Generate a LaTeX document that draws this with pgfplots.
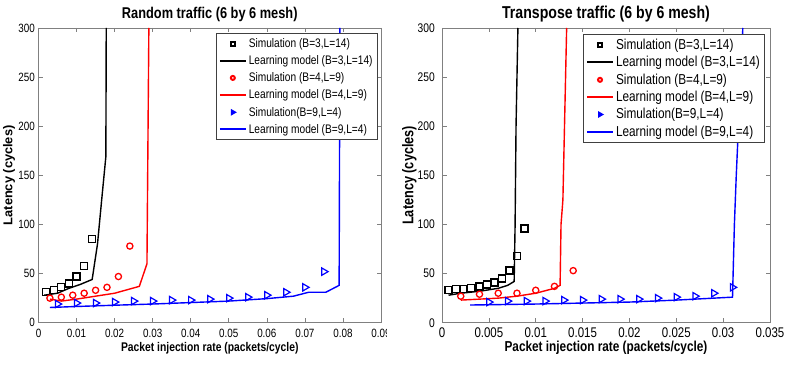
\documentclass[border=0pt]{standalone}
\usepackage{fontspec}
\setmainfont{Liberation Sans}[FakeStretch=0.82]
\newfontfamily\widefont{Liberation Sans}
\usepackage{pgfplots}
\pgfplotsset{compat=1.18}
\newcommand\fs[1]{\fontsize{#1}{#1}\selectfont}

\pgfplotsset{
  matfig/.style={
    scale only axis, height=294.7pt,
    ymin=0, ymax=300, ytick={0,50,...,300},
    scaled x ticks=false, scaled y ticks=false,
    tick align=inside, major tick length=4.5pt,
    axis line style={black!50, line width=0.7pt},
    tick style={black!50, line width=0.6pt},
    /pgf/number format/assume math mode=true,
    title style={at={(0.5,1)}, anchor=base, yshift=3pt},
    xlabel style={at={(0.5,0)}, anchor=base, yshift=-29pt},
    xticklabel style={anchor=base, yshift=-15pt},
    yticklabel style={inner sep=0pt, xshift=-3.5pt},
    legend cell align=left,
    legend image code/.code={\draw[mark repeat=2,mark phase=2,##1] plot coordinates {(0pt,0pt)(13pt,0pt)(26pt,0pt)};},
    legend image post style={mark size=2pt, line width=2pt},
  },
}

\begin{document}
\begin{tikzpicture}
\useasboundingbox (0,0) rectangle (789pt,364pt);

\begin{scope}
\clip (0,0) rectangle (386pt,364pt);
\begin{axis}[matfig,
  at={(38.5pt,41.3pt)}, anchor=south west, width=342.5pt,
  xmin=0, xmax=0.09,
  xtick={0,0.01,0.02,0.03,0.04,0.05,0.06,0.07,0.08,0.09},
  xticklabels={0,0.01,0.02,0.03,0.04,0.05,0.06,0.07,0.08,0.09},
  ticklabel style={font=\fs{12}},
  title={\fs{15.6}\bfseries Random traffic (6 by 6 mesh)},
  xlabel={\fs{12.6}\bfseries Packet injection rate (packets/cycle)},
  ylabel={\widefont\fs{12.8}\bfseries Latency (cycles)},
  ylabel style={at={(axis description cs:-0.076,0.5)}, anchor=base},
  legend style={at={(0.991,0.983)}, anchor=north east, draw=black!75,
    line width=0.6pt, inner sep=3pt, font=\fs{12.4}, row sep=2.7pt,
    nodes={inner sep=2pt}},
]
\addplot[only marks, black, mark=square, mark size=3.5pt, line width=1.3pt]
  coordinates {(0.002,31)(0.004,33)(0.006,36)(0.008,40)(0.010,47)(0.012,58)(0.014,85)};
\addlegendentry{Simulation (B=3,L=14)}
\addplot[black, no marks, line width=1.4pt]
  coordinates {(0.0015,28)(0.005,30)(0.008,35)(0.011,39)(0.0141,44)(0.0155,80)(0.0166,125)(0.0177,169)(0.0178,300)};
\addlegendentry{Learning model (B=3,L=14)}
\addplot[only marks, red, mark=o, mark size=3.1pt, line width=1.3pt]
  coordinates {(0.003,25)(0.006,26)(0.009,28)(0.012,30)(0.015,33)(0.018,36)(0.021,47)(0.024,78)};
\addlegendentry{Simulation (B=4,L=9)}
\addplot[red, no marks, line width=1.4pt]
  coordinates {(0.003,24)(0.006,22)(0.010,24)(0.015,27)(0.020,30)(0.0265,37)(0.0285,60)(0.029,300)};
\addlegendentry{Learning model (B=4,L=9)}
\addplot[only marks, blue, mark=triangle, mark size=4.2pt, line width=1.2pt, mark options={rotate=-90}]
  coordinates {(0.005,19)(0.010,20)(0.015,20)(0.020,21)(0.025,22)(0.030,22)(0.035,23)(0.040,23)(0.045,24)(0.050,25)(0.055,26)(0.060,28)(0.065,31)(0.070,36)(0.075,52)};
\addlegendentry{Simulation(B=9,L=4)}
\addplot[blue, no marks, line width=1.4pt]
  coordinates {(0.003,15.5)(0.010,16.5)(0.020,17.8)(0.030,19)(0.040,20.5)(0.050,22)(0.060,24.5)(0.067,27)(0.071,31)(0.0755,31)(0.079,38)(0.0792,300)};
\addlegendentry{Learning model (B=9,L=4)}
\end{axis}
\end{scope}

\begin{axis}[matfig,
  at={(442pt,41.3pt)}, anchor=south west, width=328pt,
  xmin=0, xmax=0.035,
  xtick={0,0.005,0.01,0.015,0.02,0.025,0.03,0.035},
  xticklabels={0,0.005,0.01,0.015,0.02,0.025,0.03,0.035},
  xticklabel style={font=\fs{14}},
  yticklabel style={font=\fs{12.5}, xshift=-3.5pt},
  title={\fs{17.2}\bfseries Transpose traffic (6 by 6 mesh)},
  xlabel={\fs{14.4}\bfseries Packet injection rate (packets/cycle)},
  ylabel={\fs{15.5}\bfseries Latency (cycles)},
  ylabel style={at={(axis description cs:-0.087,0.5)}, anchor=base},
  legend style={at={(0.985,0.98)}, anchor=north east, draw=black!75,
    line width=0.6pt, inner sep=3pt, font=\fs{14.4}, row sep=1.4pt,
    nodes={inner sep=2pt}},
]
\addplot[only marks, black, mark=square, mark size=3.5pt, line width=1.3pt]
  coordinates {(0.0007,33)(0.0015,34)(0.0023,34)(0.0031,35)(0.004,37)(0.0048,39)(0.0056,41)(0.0064,45)(0.0072,53)(0.008,68)(0.0088,96)};
\addlegendentry{Simulation (B=3,L=14)}
\addplot[black, no marks, line width=1.4pt]
  coordinates {(0.0007,28)(0.002,30)(0.004,32)(0.006,35)(0.007,38)(0.0077,42)(0.0078,100)(0.0079,200)(0.0081,300)};
\addlegendentry{Learning model (B=3,L=14)}
\addplot[only marks, red, mark=o, mark size=3.1pt, line width=1.3pt]
  coordinates {(0.002,27)(0.004,29)(0.006,30)(0.008,30)(0.010,33)(0.012,37)(0.014,53)};
\addlegendentry{Simulation (B=4,L=9)}
\addplot[red, no marks, line width=1.4pt]
  coordinates {(0.002,23)(0.004,24)(0.006,25)(0.008,27)(0.010,30)(0.012,35)(0.0126,38)(0.0127,100)(0.0129,125)(0.0133,300)};
\addlegendentry{Learning model (B=4,L=9)}
\addplot[only marks, blue, mark=triangle, mark size=4.2pt, line width=1.2pt, mark options={rotate=-90}]
  coordinates {(0.005,21)(0.007,22)(0.009,22)(0.011,22)(0.013,23)(0.015,23)(0.017,24)(0.019,24)(0.021,24)(0.023,25)(0.025,26)(0.027,27)(0.029,30)(0.031,36)};
\addlegendentry{Simulation(B=9,L=4)}
\addplot[blue, no marks, line width=1.4pt]
  coordinates {(0.003,18)(0.010,19)(0.015,20)(0.020,21)(0.025,23)(0.031,26)(0.0312,100)(0.0314,150)(0.0321,300)};
\addlegendentry{Learning model (B=9,L=4)}
\end{axis}
\end{tikzpicture}
\end{document}
